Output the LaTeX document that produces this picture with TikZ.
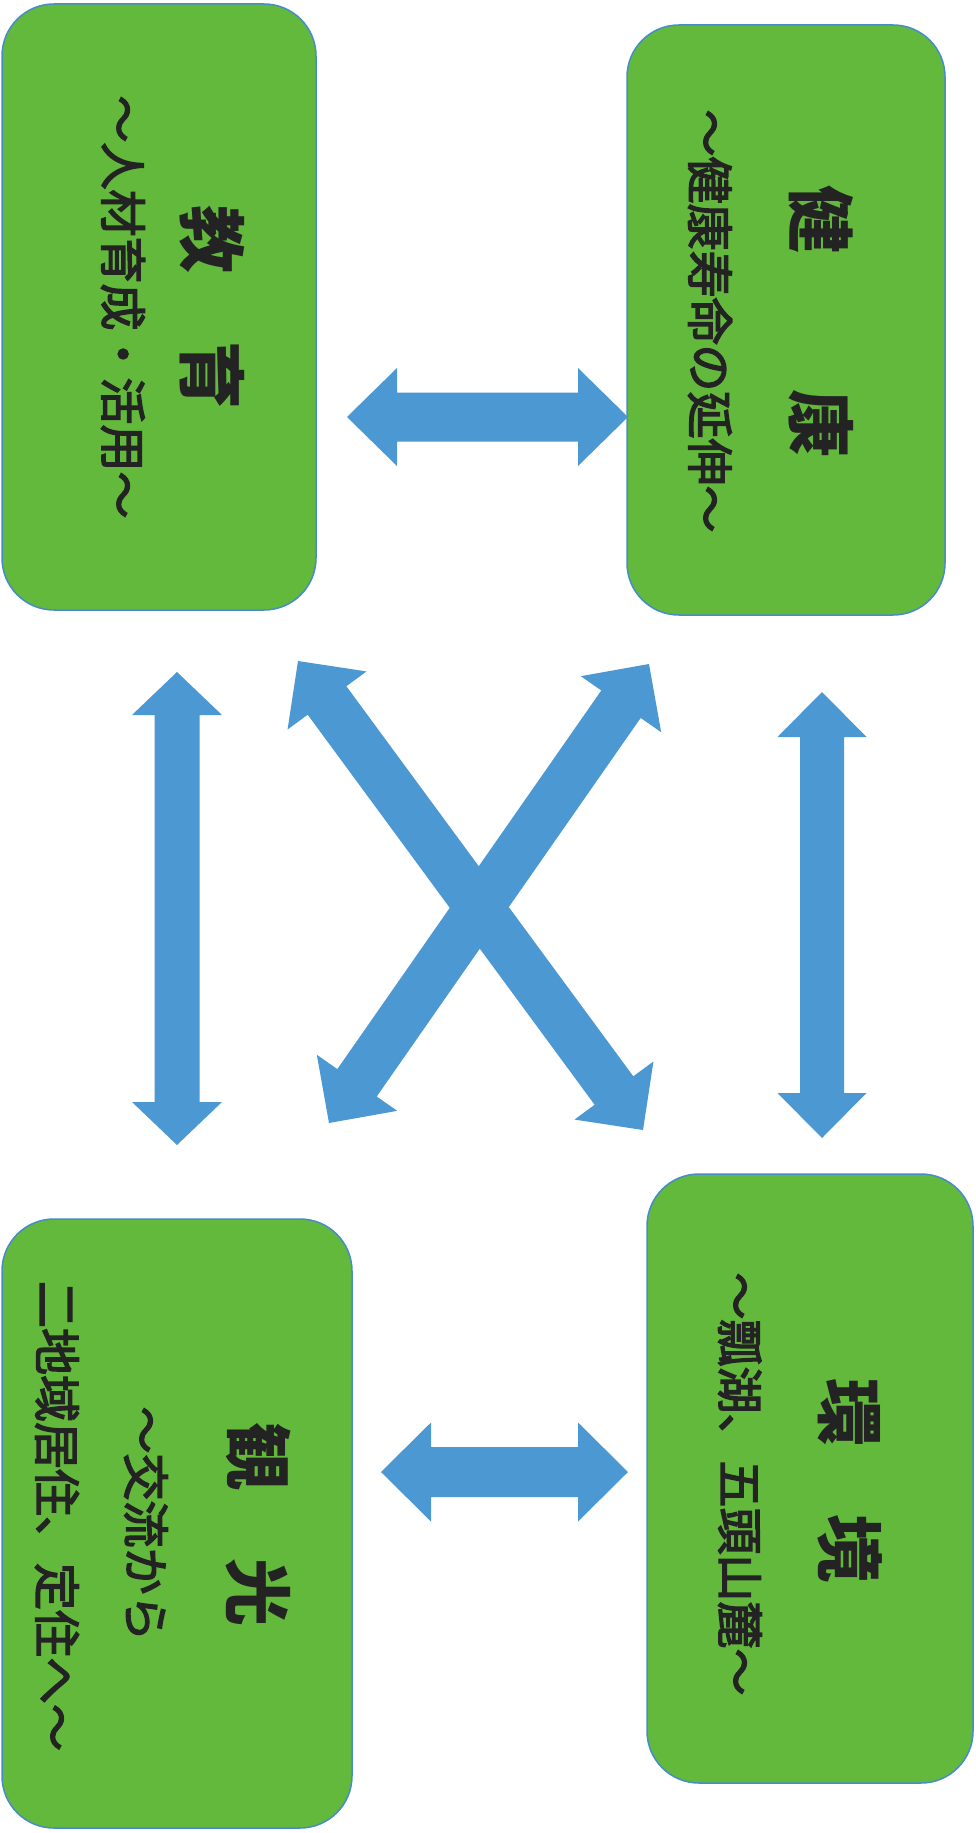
\documentclass[tikz,border=0pt]{standalone}
\usepackage{fontspec}
\newfontfamily\jp{Noto Sans CJK JP}
\newfontfamily\jpsub{Noto Sans CJK JP}[FakeBold=3]
\usetikzlibrary{calc}
\definecolor{boxgreen}{RGB}{99,185,60}
\definecolor{boxline}{RGB}{70,140,200}
\definecolor{arrowblue}{RGB}{76,152,211}
\definecolor{inkcol}{RGB}{35,35,35}
% #1 start, #2 end, #3 shaft half width, #4 head half width, #5 head length
\newcommand{\dbarrow}[5]{%
  \fill[arrowblue] (#1)
    -- ($($(#1)!#5!(#2)$)!#4!90:(#2)$)
    -- ($($(#1)!#5!(#2)$)!#3!90:(#2)$)
    -- ($($(#2)!#5!(#1)$)!#3!-90:(#1)$)
    -- ($($(#2)!#5!(#1)$)!#4!-90:(#1)$)
    -- (#2)
    -- ($($(#2)!#5!(#1)$)!#4!90:(#1)$)
    -- ($($(#2)!#5!(#1)$)!#3!90:(#1)$)
    -- ($($(#1)!#5!(#2)$)!#3!-90:(#2)$)
    -- ($($(#1)!#5!(#2)$)!#4!-90:(#2)$)
    -- cycle;}
\tikzset{
  panel/.style={draw=boxline, line width=1.5pt, fill=boxgreen,
    rounded corners=52pt, inner sep=0pt},
  titletext/.style={font=\jp\bfseries\fontsize{68}{68}\selectfont,
    rotate=-90, inner sep=0pt, text=inkcol},
  subtext/.style={font=\jpsub\fontsize{47}{47}\selectfont,
    rotate=-90, inner sep=0pt, text=inkcol},
}
\begin{document}
\begin{tikzpicture}[x=1pt,y=-1pt]
\path[use as bounding box, fill=white] (0,0) rectangle (976,1833);

% panels
\node[panel, minimum width=314pt, minimum height=606pt] (kyoiku) at (159,307) {};
\node[panel, minimum width=318pt, minimum height=590pt] (kenko) at (786,320) {};
\node[panel, minimum width=350pt, minimum height=609pt] (kanko) at (177,1523.5) {};
\node[panel, minimum width=326pt, minimum height=609pt] (kankyo) at (810,1478.5) {};

% texts
\node[titletext] (kyoiku-t) at (212,307) {教　育};
\node[subtext] (kyoiku-s) at (123,307) {～人材育成・活用～};

\node[titletext] (kenko-t) at (821,321) {健　　康};
\node[subtext] (kenko-s) at (710,321) {～健康寿命の延伸～};

\node[titletext] (kankyo-t) at (850,1480) {環　境};
\node[subtext] (kankyo-s) at (740,1484) {～瓢湖、五頭山麓～};

\node[titletext] (kanko-t) at (258,1524) {観　光};
\node[subtext] (kanko-s1) at (146,1524) {～交流から};
\node[subtext] (kanko-s2) at (57,1516) {二地域居住、定住へ～};

% arrow end points
\coordinate (a1s) at (347,417);
\coordinate (a1e) at (628,417);
\coordinate (a2s) at (381,1472);
\coordinate (a2e) at (628,1472);
\coordinate (a3s) at (177,672);
\coordinate (a3e) at (177,1145);
\coordinate (a4s) at (822,692);
\coordinate (a4e) at (822,1138);
\coordinate (a5s) at (298,661);
\coordinate (a5e) at (643,1130);
\coordinate (a6s) at (649,664);
\coordinate (a6e) at (329,1123);

% arrows
\dbarrow{a1s}{a1e}{24.5pt}{49pt}{50pt}
\dbarrow{a2s}{a2e}{25pt}{49.5pt}{50pt}
\dbarrow{a3s}{a3e}{22.5pt}{45pt}{43pt}
\dbarrow{a4s}{a4e}{22pt}{44.5pt}{45pt}
\dbarrow{a5s}{a5e}{24pt}{49pt}{49pt}
\dbarrow{a6s}{a6e}{24pt}{49pt}{49pt}
\end{tikzpicture}
\end{document}
